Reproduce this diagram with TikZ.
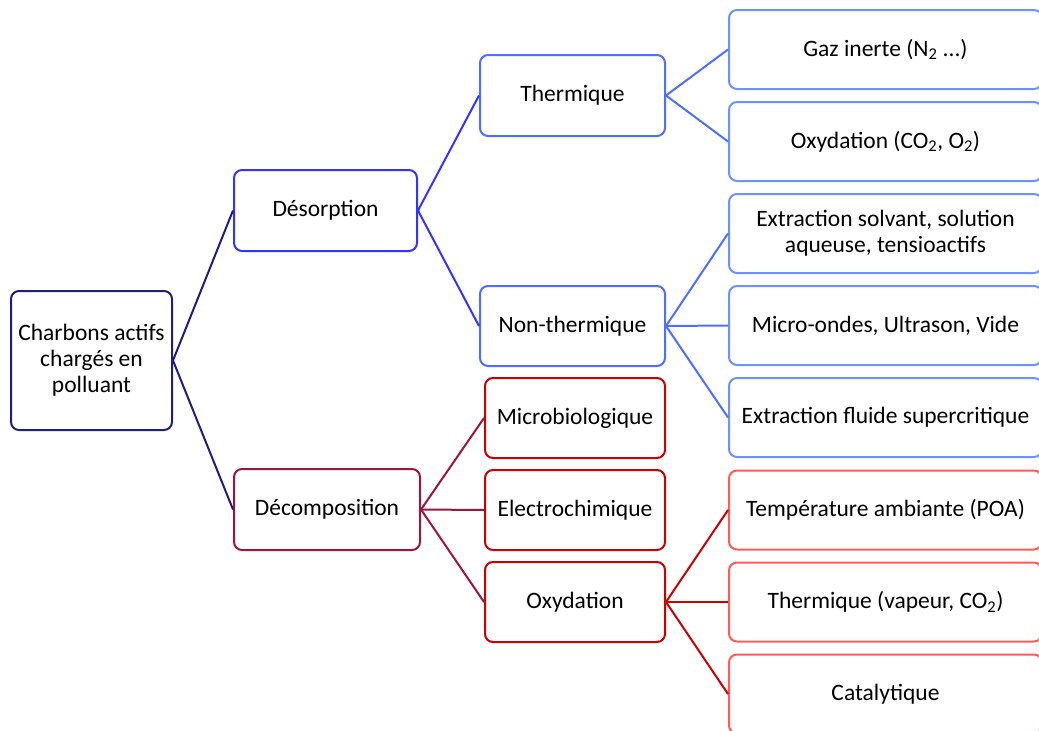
\documentclass[tikz,border=0pt]{standalone}
\usepackage{fontspec}
\setmainfont{Carlito}
\definecolor{rootc}{RGB}{31,31,122}
\definecolor{desc}{RGB}{51,51,255}
\definecolor{thc}{RGB}{77,110,255}
\definecolor{bluel}{RGB}{110,145,255}
\definecolor{decc}{RGB}{160,20,60}
\definecolor{redc}{RGB}{204,0,0}
\definecolor{redl}{RGB}{255,90,90}
\begin{document}
\begin{tikzpicture}[x=1pt,y=-1pt,
  box/.style={draw, rounded corners=8pt, line width=2pt, fill=white, align=center,
    font=\fontsize{23.5}{26}\selectfont, inner sep=0pt, text=black},
  link/.style={line width=2pt},
  midbox/.style={box, minimum width=180pt, minimum height=80pt},
  rbox/.style={box, minimum width=313pt, minimum height=79pt}]
\useasboundingbox (0,0) rectangle (1039,731);
% nodes
\node[box, draw=rootc, minimum width=161pt, minimum height=139pt] (root) at (91.5,360.5) {Charbons actifs\\chargés en\\polluant};
\node[box, draw=desc, minimum width=183pt, minimum height=81pt] (des) at (325.5,210.5) {Désorption};
\node[box, draw=decc, minimum width=186pt, minimum height=81pt] (dec) at (327,509.5) {Décomposition};
\node[box, draw=thc, minimum width=185pt, minimum height=81pt] (th) at (572.5,95.5) {Thermique};
\node[box, draw=thc, minimum width=185pt, minimum height=80pt] (nth) at (572.5,326) {Non-thermique};
\node[midbox, draw=redc] (mic) at (575,418) {Microbiologique};
\node[midbox, draw=redc] (ele) at (575,510) {Electrochimique};
\node[midbox, draw=redc] (oxy) at (575,602) {Oxydation};
\node[rbox, draw=bluel] (gaz) at (885.5,49.5) {Gaz inerte (N\textsubscript{2} ...)};
\node[rbox, draw=bluel] (oxco) at (885.5,141.5) {Oxydation (CO\textsubscript{2}, O\textsubscript{2})};
\node[rbox, draw=bluel] (ext) at (885.5,233.5) {Extraction solvant, solution\\aqueuse, tensioactifs};
\node[rbox, draw=bluel] (mo) at (885.5,325.5) {Micro-ondes, Ultrason, Vide};
\node[rbox, draw=bluel] (efs) at (885.5,417.5) {Extraction fluide supercritique};
\node[rbox, draw=redl] (tamb) at (885.5,510) {Température ambiante (POA)};
\node[rbox, draw=redl] (tvap) at (885.5,602) {Thermique (vapeur, CO\textsubscript{2})};
\node[rbox, draw=redl] (cat) at (885.5,694) {Catalytique};
% links
\draw[link, rootc] (root.east) -- (des.west);
\draw[link, rootc] (root.east) -- (dec.west);
\draw[link, desc] (des.east) -- (th.west);
\draw[link, desc] (des.east) -- (nth.west);
\draw[link, thc] (th.east) -- (gaz.west);
\draw[link, thc] (th.east) -- (oxco.west);
\draw[link, thc] (nth.east) -- (ext.west);
\draw[link, thc] (nth.east) -- (mo.west);
\draw[link, thc] (nth.east) -- (efs.west);
\draw[link, decc] (dec.east) -- (mic.west);
\draw[link, decc] (dec.east) -- (ele.west);
\draw[link, decc] (dec.east) -- (oxy.west);
\draw[link, redc] (oxy.east) -- (tamb.west);
\draw[link, redc] (oxy.east) -- (tvap.west);
\draw[link, redc] (oxy.east) -- (cat.west);
\end{tikzpicture}
\end{document}
